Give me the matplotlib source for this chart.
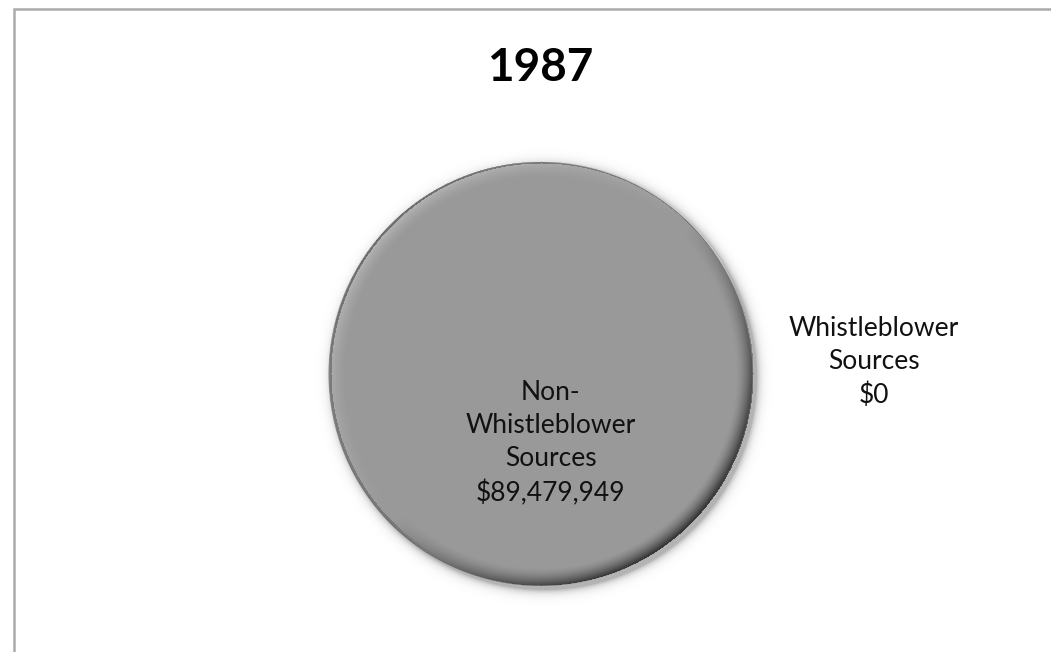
import numpy as np
import matplotlib.pyplot as plt

plt.rcParams['font.family'] = ['Lato', 'DejaVu Sans']

# data
title = '1987'
labels = ['Non-\nWhistleblower\nSources', 'Whistleblower\nSources']
values = [89479949, 0]
colors = ['#999999', '#999999']

W, H = 1051, 652
fig = plt.figure(figsize=(W / 100, H / 100), dpi=100)
ax = fig.add_axes([0, 0, 1, 1])

cx, cy, R = 540.5, H - 374, 212

wedges, _ = ax.pie(values, colors=colors, center=(cx, cy), radius=R,
                   startangle=90, counterclock=False,
                   wedgeprops=dict(linewidth=0))
for w in wedges:
    w.set_zorder(2)

# bevel + shadow overlay
pad = 20
xs = np.arange(cx - R - pad, cx + R + pad, 1.0)
ys = np.arange(cy - R - pad, cy + R + pad, 1.0)
X, Y = np.meshgrid(xs, ys)
d = np.hypot(X - cx, Y - cy)
phi = np.arctan2(Y - cy, X - cx)
s = np.cos(phi - np.deg2rad(135))
rgba = np.zeros(X.shape + (4,))
inside = d <= R
edge = np.clip(1 - (R - d) / 18.0, 0, 1) ** 1.6
light = inside & (s > 0)
dark = inside & (s <= 0)
rgba[light, :3] = 1.0
rgba[light, 3] = 0.3 * edge[light] * s[light]
rgba[dark, :3] = 0.0
rgba[dark, 3] = 0.72 * edge[dark] * (-s[dark]) ** 0.8
# thin rim
rim = inside & (d > R - 2)
rgba[rim, :3] = 0.0
rgba[rim, 3] = np.maximum(rgba[rim, 3], 0.2)
# outer shadow
ds = np.hypot(X - cx - 3, Y - cy + 4)
outside = ~inside
sh = np.where(ds < R, 1.0, np.exp(-(ds - R) / 4.0))
rgba[outside, :3] = 0.0
rgba[outside, 3] = 0.3 * sh[outside] * np.clip(d[outside] - R + 1, 0, 1)
ax.imshow(rgba, extent=(xs[0], xs[-1] + 1, ys[0], ys[-1] + 1),
          origin='lower', interpolation='bilinear', zorder=3)

# labels
ax.text(cx + 10, H - 443, f"{labels[0]}\n${values[0]:,.0f}", ha='center', va='center',
        fontsize=19, color='#111111', linespacing=1.42, zorder=5)
ax.text(874, H - 362, f"{labels[1]}\n${values[1]:,.0f}", ha='center', va='center',
        fontsize=19, color='#111111', linespacing=1.42, zorder=5)

ax.text(540, H - 68, title, ha='center', va='center', fontsize=33,
        fontweight='bold', color='#000000', zorder=5)

# chart border (right and bottom are cut off)
ax.plot([13.5, 13.5, W + 5], [-5, H - 8.5, H - 8.5], color='#ababab', lw=1.8,
        solid_joinstyle='miter', zorder=1)

ax.set_xlim(0, W)
ax.set_ylim(0, H)
ax.set_aspect('auto')
ax.axis('off')

fig.savefig('out.png', dpi=100, facecolor='white')
